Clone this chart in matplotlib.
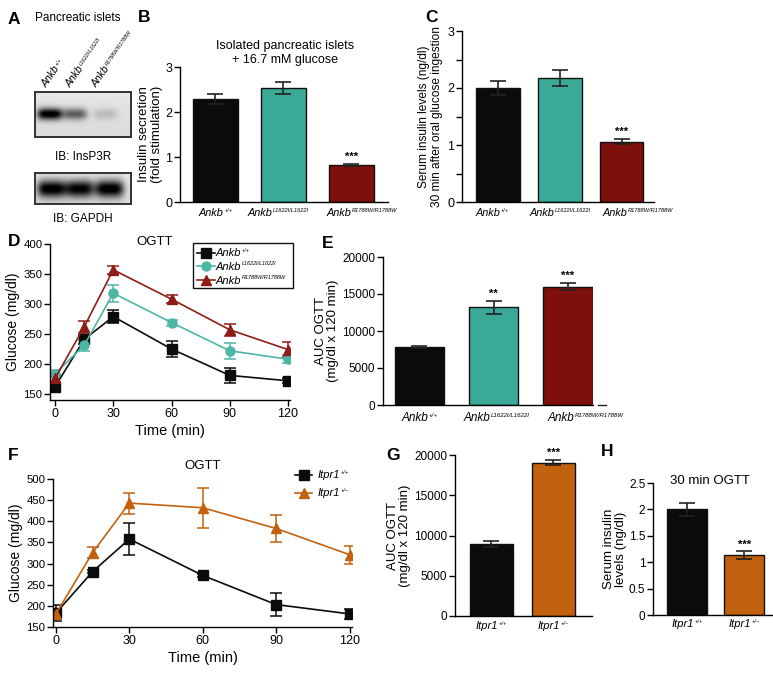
import numpy as np
import matplotlib.pyplot as plt
from matplotlib.lines import Line2D
from matplotlib.patches import Rectangle

plt.rcParams['font.family'] = ['Liberation Sans', 'DejaVu Sans']

W, H = 773, 676

# genotype labels: (base, superscript)
ankb_labels = [('Ankb', '+/+'), ('Ankb', 'L1622I/L1622I'), ('Ankb', 'R1788W/R1788W')]
itpr_labels = [('Itpr1', '+/+'), ('Itpr1', '+/\u2013')]

ankb_colors = ['#0b0b0b', '#3aa997', '#7e0f0b']
ankb_line_colors = ['#0b0b0b', '#4db6a6', '#8e1c17']
itpr_colors = ['#0b0b0b', '#c2620f']

# A: blot band intensities (relative)
insp3r_bands = [1.0, 0.55, 0.15]
gapdh_bands = [1.0, 0.95, 1.0]

# B: insulin secretion (fold stimulation)
b_vals = [2.29, 2.53, 0.83]
b_errs = [0.12, 0.13, 0.02]
b_stars = ['', '', '***']

# C: serum insulin 30 min after oral glucose
c_vals = [2.0, 2.18, 1.06]
c_errs = [0.12, 0.14, 0.04]
c_stars = ['', '', '***']

# D: OGTT Ankb
time_d = [0, 15, 30, 60, 90, 120]
d_wt = [162, 241, 279, 225, 181, 172]
d_wt_err = [5, 8, 11, 13, 12, 4]
d_l = [184, 231, 318, 269, 222, 208]
d_l_err = [6, 9, 14, 5, 13, 7]
d_r = [176, 262, 357, 308, 257, 224]
d_r_err = [6, 10, 7, 7, 10, 13]

# E: AUC OGTT Ankb
e_vals = [7840, 13200, 16000]
e_errs = [200, 900, 480]
e_stars = ['', '**', '***']

# F: OGTT Itpr1
time_f = [0, 15, 30, 60, 90, 120]
f_wt = [183, 281, 358, 272, 203, 181]
f_wt_err = [19, 4, 38, 4, 27, 12]
f_het = [181, 326, 443, 432, 383, 321]
f_het_err = [10, 14, 25, 47, 31, 21]

# G: AUC OGTT Itpr1
g_vals = [8960, 19050]
g_errs = [400, 350]
g_stars = ['', '***']

# H: serum insulin 30 min OGTT
h_vals = [2.0, 1.13]
h_errs = [0.12, 0.075]
h_stars = ['', '***']


fig = plt.figure(figsize=(W / 100, H / 100), dpi=100)
renderer = fig.canvas.get_renderer()


def rect(x0, y0, x1, y1):
    return [x0 / W, 1 - y1 / H, (x1 - x0) / W, (y1 - y0) / H]


def text_width(s, size):
    t = fig.text(0, 0, s, fontsize=size, style='italic')
    w = t.get_window_extent(renderer).width
    t.remove()
    return w


def geno(x, y, label, size, ha='center', rot=0, sup_ratio=0.52):
    # x, y: display pixels (origin bottom-left), y is the baseline
    base, sup = label
    wb = text_width(base, size)
    ws = text_width(sup, size * sup_ratio)
    c, s = np.cos(np.radians(rot)), np.sin(np.radians(rot))
    if ha == 'center':
        x, y = x - (wb + ws) / 2 * c, y - (wb + ws) / 2 * s
    fig.text(x / W, y / H, base, fontsize=size, style='italic', rotation=rot,
             rotation_mode='anchor', ha='left', va='baseline')
    up = size * 1.389 * 0.36
    fig.text((x + (wb + 0.5) * c - up * s) / W, (y + (wb + 0.5) * s + up * c) / H, sup,
             fontsize=size * sup_ratio, style='italic', rotation=rot,
             rotation_mode='anchor', ha='left', va='baseline')


def style(ax, tick_size=8.5):
    for s in ['top', 'right']:
        ax.spines[s].set_visible(False)
    for s in ['left', 'bottom']:
        ax.spines[s].set_linewidth(1.0)
    ax.tick_params(direction='out', length=4, width=1, labelsize=tick_size, pad=1.5)


def bar_panel(ax, vals, errs, colors, labels, stars, xlim, ylim, yticks,
              width, ylabel, label_size=8, label_off=13, shifts=None):
    x = np.arange(len(vals))
    if shifts is None:
        shifts = [0] * len(vals)
    ax.bar(x, vals, width=width, color=colors, edgecolor='#111111', linewidth=1.0, zorder=2)
    ax.errorbar(x, vals, yerr=errs, fmt='none', ecolor='#222222', elinewidth=1.2,
                capsize=5.5, capthick=1.2, zorder=3)
    for xi, v, e, s in zip(x, vals, errs, stars):
        if s:
            ax.text(xi, v + e + 0.015 * (ylim[1] - ylim[0]), s, ha='center',
                    va='bottom', fontsize=8, fontweight='bold')
    ax.set_xlim(*xlim)
    ax.set_ylim(*ylim)
    ax.set_yticks(yticks)
    ax.set_xticks([])
    style(ax)
    ax.set_ylabel(ylabel, fontsize=9.5, linespacing=1.1, labelpad=2)
    for xi, lab, dx in zip(x, labels, shifts):
        px, py = ax.transData.transform((xi, ylim[0]))
        geno(px + dx, py - label_off, lab, label_size)


# panel letters
for lab, (px, py) in {'A': (8, 19), 'B': (138, 18), 'C': (425, 17), 'D': (8, 242),
                      'E': (322, 243), 'F': (8, 455), 'G': (386, 455), 'H': (601, 451)}.items():
    fig.text(px / W, 1 - py / H, lab, fontsize=12.5, fontweight='bold', va='center', ha='left')

# ---- A: western blots
fig.text(35 / W, 1 - 18 / H, 'Pancreatic islets', fontsize=8.5, va='center', ha='left')


def blot(box, bands, lanes, cy, bw, bh):
    ax = fig.add_axes(rect(*box))
    ny, nx = 60, 120
    yy, xx = np.mgrid[0:ny, 0:nx]
    img = np.full((ny, nx), 0.10) + 0.05 * (yy / ny)
    for c, a in zip(lanes, bands):
        img += a * np.exp(-((xx - c * nx) / (bw * nx)) ** 4 - ((yy - cy * ny) / (bh * ny)) ** 2)
    ax.imshow(img, cmap='gray_r', vmin=0, vmax=1.05, aspect='auto', interpolation='bilinear')
    ax.set_xticks([])
    ax.set_yticks([])
    for s in ax.spines.values():
        s.set_linewidth(1.4)
        s.set_color('#333333')
    return ax


blot((35, 92, 131, 137), insp3r_bands, [0.15, 0.41, 0.73], 0.48, 0.13, 0.13)
blot((35, 173, 131, 204), gapdh_bands, [0.17, 0.46, 0.77], 0.50, 0.15, 0.28)
fig.text(83 / W, 1 - 157 / H, 'IB: InsP3R', fontsize=8.5, ha='center', va='center')
fig.text(83 / W, 1 - 219 / H, 'IB: GAPDH', fontsize=8.5, ha='center', va='center')
for lab, px in zip(ankb_labels, [47, 71, 97]):
    geno(px, H - 88, lab, 7.5, ha='left', rot=55, sup_ratio=0.5)

# ---- B
axB = fig.add_axes(rect(180, 67, 388, 202))
bar_panel(axB, b_vals, b_errs, ankb_colors, ankb_labels, b_stars, (-0.52, 2.54), (0, 3),
          [0, 1, 2, 3], 0.66, 'Insulin secretion\n(fold stimulation)', label_size=7.8,
          label_off=14, shifts=[0, -5, 10])
axB.tick_params(axis='y', labelsize=9)
fig.text(285 / W, 1 - 53 / H, 'Isolated pancreatic islets\n+ 16.7 mM glucose', fontsize=9,
         ha='center', va='center', linespacing=1.15)

# ---- C
axC = fig.add_axes(rect(462, 31, 654, 202))
bar_panel(axC, c_vals, c_errs, ankb_colors, ankb_labels, c_stars, (-0.58, 2.52), (0, 3),
          [0, 0.5, 1, 1.5, 2, 2.5, 3], 0.7,
          'Serum insulin levels (ng/dl)\n30 min after oral glucose ingestion', label_size=7.8,
          label_off=14, shifts=[-6, 0, 16])
axC.set_yticklabels(['0', '', '1', '', '2', '', '3'])
axC.tick_params(axis='y', labelsize=9)
axC.yaxis.label.set_size(8.6)
axC.yaxis.labelpad = 3

# ---- D
axD = fig.add_axes(rect(50, 244, 290, 400))
series_d = [(d_wt, d_wt_err, 's'), (d_l, d_l_err, 'o'), (d_r, d_r_err, '^')]
for (vals, errs, mk), col in zip(series_d, ankb_line_colors):
    axD.errorbar(time_d, vals, yerr=errs, color=col, marker=mk, markersize=6.5, linewidth=1.2,
                 elinewidth=1.1, capsize=4, capthick=1.1)
axD.set_xlim(-2.6, 121)
axD.set_ylim(140, 400)
axD.set_yticks([150, 200, 250, 300, 350, 400])
axD.set_xticks([0, 30, 60, 90, 120])
style(axD, 8.2)
axD.tick_params(axis='x', labelsize=9)
axD.set_xlabel('Time (min)', fontsize=10.5, labelpad=3)
axD.set_ylabel('Glucose (mg/dl)', fontsize=10, labelpad=2)
fig.text(155 / W, 1 - 242 / H, 'OGTT', fontsize=9.5, ha='center', va='center')
# legend (drawn by hand to keep the small superscripts)
fig.add_artist(Rectangle((193 / W, 1 - 288 / H), 100 / W, 45 / H, transform=fig.transFigure,
                         fill=False, edgecolor='#111111', linewidth=1.0))
for (vals, errs, mk), col, lab, ly in zip(series_d, ankb_line_colors, ankb_labels,
                                         [253, 266, 280]):
    fig.add_artist(Line2D([197 / W, 215 / W], [1 - ly / H, 1 - ly / H], color=col, lw=1.2))
    fig.add_artist(Line2D([206 / W], [1 - ly / H], color=col, marker=mk, markersize=6.5))
    geno(216, H - ly - 3.5, lab, 8, ha='left', sup_ratio=0.5)

# ---- E
axE = fig.add_axes(rect(383, 257, 593, 405))
bar_panel(axE, e_vals, e_errs, ankb_colors, ankb_labels, e_stars, (-0.49, 2.34), (0, 20000),
          [0, 5000, 10000, 15000, 20000], 0.67, 'AUC OGTT\n(mg/dl x 120 min)', label_size=8.5,
          label_off=16, shifts=[0, 3, 18])
fig.add_artist(Line2D([598 / W, 606 / W], [1 - 405 / H, 1 - 405 / H], color='#222222', lw=1))

# ---- F
axF = fig.add_axes(rect(53, 479, 352, 627))
series_f = [(f_wt, f_wt_err, 's'), (f_het, f_het_err, '^')]
for (vals, errs, mk), col in zip(series_f, itpr_colors):
    axF.errorbar(time_f, vals, yerr=errs, color=col, marker=mk, markersize=6.5, linewidth=1.2,
                 elinewidth=1.1, capsize=4, capthick=1.1)
axF.set_xlim(-1.2, 121)
axF.set_ylim(150, 500)
axF.set_yticks(np.arange(150, 501, 50))
axF.set_xticks([0, 30, 60, 90, 120])
style(axF, 8.2)
axF.tick_params(axis='x', labelsize=9)
axF.set_xlabel('Time (min)', fontsize=10.5, labelpad=3)
axF.set_ylabel('Glucose (mg/dl)', fontsize=10, labelpad=2)
fig.text(203 / W, 1 - 466 / H, 'OGTT', fontsize=9.5, ha='center', va='center')
for (vals, errs, mk), col, lab, ly in zip(series_f, itpr_colors, itpr_labels, [475, 493]):
    fig.add_artist(Line2D([295 / W, 312 / W], [1 - ly / H, 1 - ly / H], color=col, lw=1.2))
    fig.add_artist(Line2D([303.5 / W], [1 - ly / H], color=col, marker=mk, markersize=6.5))
    geno(318, H - ly - 3.5, lab, 8, ha='left')

# ---- G
axG = fig.add_axes(rect(455, 455, 592, 616))
bar_panel(axG, g_vals, g_errs, itpr_colors, itpr_labels, g_stars, (-0.58, 1.62), (0, 20000),
          [0, 5000, 10000, 15000, 20000], 0.69, 'AUC OGTT\n(mg/dl x 120 min)', label_size=8,
          label_off=13)

# ---- H
axH = fig.add_axes(rect(653, 483, 772, 615))
bar_panel(axH, h_vals, h_errs, itpr_colors, itpr_labels, h_stars, (-0.6, 1.49), (0, 2.5),
          [0, 0.5, 1, 1.5, 2, 2.5], 0.7, 'Serum insulin\nlevels (ng/dl)', label_size=8,
          label_off=12)
axH.set_yticklabels(['0', '0.5', '1', '1.5', '2', '2.5'])
axH.yaxis.labelpad = 1
fig.text(710 / W, 1 - 481 / H, '30 min OGTT', fontsize=9.5, ha='center', va='center')

fig.savefig('out.png', dpi=100)
